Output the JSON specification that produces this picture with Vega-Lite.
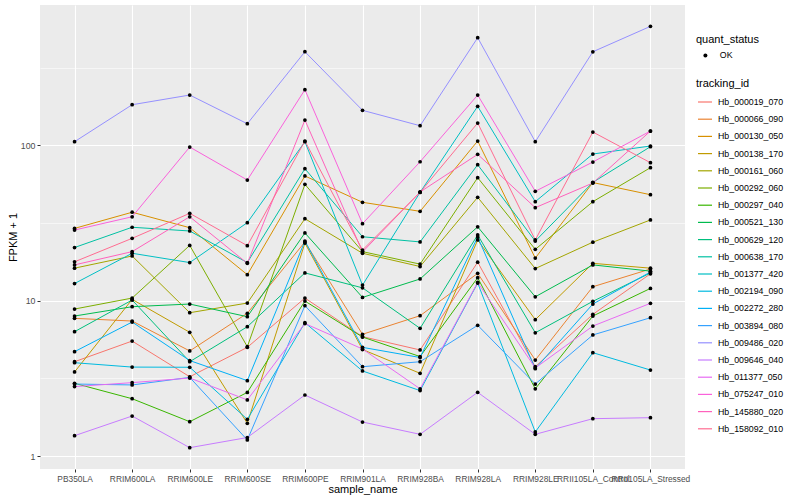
{
"$schema": "https://vega.github.io/schema/vega-lite/v6.json",
"width": 645, "height": 464,
"autosize": {"type": "none"},
"padding": {"left": 40, "top": 5, "right": 115, "bottom": 31},
"background": "white",
"config": {
  "view": {"fill": "#EBEBEB", "stroke": null},
  "font": "Liberation Sans",
  "axis": {"domain": false, "gridColor": "white", "tickColor": "#333333", "tickSize": 3, "tickWidth": 1, "labelColor": "#4D4D4D", "labelFontSize": 8.8, "labelFont": "Liberation Sans", "titleFont": "Liberation Sans", "titleFontSize": 11, "titleFontWeight": "normal", "titleColor": "black", "labelPadding": 2},
  "legend": {"labelFont": "Liberation Sans", "titleFont": "Liberation Sans", "titleFontWeight": "normal", "titleFontSize": 11, "labelFontSize": 8.8, "labelColor": "black", "titleColor": "black", "padding": 0}
},
"data": {"values": [
{"tracking_id":"Hb_000019_070","sample_name":"PB350LA","fpkm":4.05,"quant_status":"OK"},
{"tracking_id":"Hb_000019_070","sample_name":"RRIM600LA","fpkm":5.5,"quant_status":"OK"},
{"tracking_id":"Hb_000019_070","sample_name":"RRIM600LE","fpkm":3.24,"quant_status":"OK"},
{"tracking_id":"Hb_000019_070","sample_name":"RRIM600SE","fpkm":5.01,"quant_status":"OK"},
{"tracking_id":"Hb_000019_070","sample_name":"RRIM600PE","fpkm":10.4,"quant_status":"OK"},
{"tracking_id":"Hb_000019_070","sample_name":"RRIM901LA","fpkm":5.87,"quant_status":"OK"},
{"tracking_id":"Hb_000019_070","sample_name":"RRIM928BA","fpkm":4.82,"quant_status":"OK"},
{"tracking_id":"Hb_000019_070","sample_name":"RRIM928LA","fpkm":17.7,"quant_status":"OK"},
{"tracking_id":"Hb_000019_070","sample_name":"RRIM928LE","fpkm":3.76,"quant_status":"OK"},
{"tracking_id":"Hb_000019_070","sample_name":"RRII105LA_Control","fpkm":8.17,"quant_status":"OK"},
{"tracking_id":"Hb_000019_070","sample_name":"RRII105LA_Stressed","fpkm":14.9,"quant_status":"OK"},
{"tracking_id":"Hb_000066_090","sample_name":"PB350LA","fpkm":7.7,"quant_status":"OK"},
{"tracking_id":"Hb_000066_090","sample_name":"RRIM600LA","fpkm":7.4,"quant_status":"OK"},
{"tracking_id":"Hb_000066_090","sample_name":"RRIM600LE","fpkm":4.75,"quant_status":"OK"},
{"tracking_id":"Hb_000066_090","sample_name":"RRIM600SE","fpkm":8.3,"quant_status":"OK"},
{"tracking_id":"Hb_000066_090","sample_name":"RRIM600PE","fpkm":23.9,"quant_status":"OK"},
{"tracking_id":"Hb_000066_090","sample_name":"RRIM901LA","fpkm":6.08,"quant_status":"OK"},
{"tracking_id":"Hb_000066_090","sample_name":"RRIM928BA","fpkm":8.01,"quant_status":"OK"},
{"tracking_id":"Hb_000066_090","sample_name":"RRIM928LA","fpkm":15.0,"quant_status":"OK"},
{"tracking_id":"Hb_000066_090","sample_name":"RRIM928LE","fpkm":4.15,"quant_status":"OK"},
{"tracking_id":"Hb_000066_090","sample_name":"RRII105LA_Control","fpkm":12.3,"quant_status":"OK"},
{"tracking_id":"Hb_000066_090","sample_name":"RRII105LA_Stressed","fpkm":16.0,"quant_status":"OK"},
{"tracking_id":"Hb_000130_050","sample_name":"PB350LA","fpkm":29.2,"quant_status":"OK"},
{"tracking_id":"Hb_000130_050","sample_name":"RRIM600LA","fpkm":37.1,"quant_status":"OK"},
{"tracking_id":"Hb_000130_050","sample_name":"RRIM600LE","fpkm":29.5,"quant_status":"OK"},
{"tracking_id":"Hb_000130_050","sample_name":"RRIM600SE","fpkm":14.7,"quant_status":"OK"},
{"tracking_id":"Hb_000130_050","sample_name":"RRIM600PE","fpkm":63.5,"quant_status":"OK"},
{"tracking_id":"Hb_000130_050","sample_name":"RRIM901LA","fpkm":43.0,"quant_status":"OK"},
{"tracking_id":"Hb_000130_050","sample_name":"RRIM928BA","fpkm":37.6,"quant_status":"OK"},
{"tracking_id":"Hb_000130_050","sample_name":"RRIM928LA","fpkm":106.6,"quant_status":"OK"},
{"tracking_id":"Hb_000130_050","sample_name":"RRIM928LE","fpkm":18.8,"quant_status":"OK"},
{"tracking_id":"Hb_000130_050","sample_name":"RRII105LA_Control","fpkm":57.6,"quant_status":"OK"},
{"tracking_id":"Hb_000130_050","sample_name":"RRII105LA_Stressed","fpkm":48.1,"quant_status":"OK"},
{"tracking_id":"Hb_000138_170","sample_name":"PB350LA","fpkm":3.48,"quant_status":"OK"},
{"tracking_id":"Hb_000138_170","sample_name":"RRIM600LA","fpkm":10.2,"quant_status":"OK"},
{"tracking_id":"Hb_000138_170","sample_name":"RRIM600LE","fpkm":6.26,"quant_status":"OK"},
{"tracking_id":"Hb_000138_170","sample_name":"RRIM600SE","fpkm":1.626,"quant_status":"OK"},
{"tracking_id":"Hb_000138_170","sample_name":"RRIM600PE","fpkm":23.5,"quant_status":"OK"},
{"tracking_id":"Hb_000138_170","sample_name":"RRIM901LA","fpkm":4.85,"quant_status":"OK"},
{"tracking_id":"Hb_000138_170","sample_name":"RRIM928BA","fpkm":3.41,"quant_status":"OK"},
{"tracking_id":"Hb_000138_170","sample_name":"RRIM928LA","fpkm":24.6,"quant_status":"OK"},
{"tracking_id":"Hb_000138_170","sample_name":"RRIM928LE","fpkm":7.55,"quant_status":"OK"},
{"tracking_id":"Hb_000138_170","sample_name":"RRII105LA_Control","fpkm":17.4,"quant_status":"OK"},
{"tracking_id":"Hb_000138_170","sample_name":"RRII105LA_Stressed","fpkm":16.2,"quant_status":"OK"},
{"tracking_id":"Hb_000161_060","sample_name":"PB350LA","fpkm":16.2,"quant_status":"OK"},
{"tracking_id":"Hb_000161_060","sample_name":"RRIM600LA","fpkm":19.4,"quant_status":"OK"},
{"tracking_id":"Hb_000161_060","sample_name":"RRIM600LE","fpkm":8.37,"quant_status":"OK"},
{"tracking_id":"Hb_000161_060","sample_name":"RRIM600SE","fpkm":9.66,"quant_status":"OK"},
{"tracking_id":"Hb_000161_060","sample_name":"RRIM600PE","fpkm":33.7,"quant_status":"OK"},
{"tracking_id":"Hb_000161_060","sample_name":"RRIM901LA","fpkm":20.2,"quant_status":"OK"},
{"tracking_id":"Hb_000161_060","sample_name":"RRIM928BA","fpkm":16.6,"quant_status":"OK"},
{"tracking_id":"Hb_000161_060","sample_name":"RRIM928LA","fpkm":46.3,"quant_status":"OK"},
{"tracking_id":"Hb_000161_060","sample_name":"RRIM928LE","fpkm":16.1,"quant_status":"OK"},
{"tracking_id":"Hb_000161_060","sample_name":"RRII105LA_Control","fpkm":23.8,"quant_status":"OK"},
{"tracking_id":"Hb_000161_060","sample_name":"RRII105LA_Stressed","fpkm":33.1,"quant_status":"OK"},
{"tracking_id":"Hb_000292_060","sample_name":"PB350LA","fpkm":8.84,"quant_status":"OK"},
{"tracking_id":"Hb_000292_060","sample_name":"RRIM600LA","fpkm":10.4,"quant_status":"OK"},
{"tracking_id":"Hb_000292_060","sample_name":"RRIM600LE","fpkm":22.7,"quant_status":"OK"},
{"tracking_id":"Hb_000292_060","sample_name":"RRIM600SE","fpkm":5.06,"quant_status":"OK"},
{"tracking_id":"Hb_000292_060","sample_name":"RRIM600PE","fpkm":56.1,"quant_status":"OK"},
{"tracking_id":"Hb_000292_060","sample_name":"RRIM901LA","fpkm":20.7,"quant_status":"OK"},
{"tracking_id":"Hb_000292_060","sample_name":"RRIM928BA","fpkm":17.2,"quant_status":"OK"},
{"tracking_id":"Hb_000292_060","sample_name":"RRIM928LA","fpkm":61.9,"quant_status":"OK"},
{"tracking_id":"Hb_000292_060","sample_name":"RRIM928LE","fpkm":21.4,"quant_status":"OK"},
{"tracking_id":"Hb_000292_060","sample_name":"RRII105LA_Control","fpkm":43.4,"quant_status":"OK"},
{"tracking_id":"Hb_000292_060","sample_name":"RRII105LA_Stressed","fpkm":71.8,"quant_status":"OK"},
{"tracking_id":"Hb_000297_040","sample_name":"PB350LA","fpkm":2.94,"quant_status":"OK"},
{"tracking_id":"Hb_000297_040","sample_name":"RRIM600LA","fpkm":2.34,"quant_status":"OK"},
{"tracking_id":"Hb_000297_040","sample_name":"RRIM600LE","fpkm":1.665,"quant_status":"OK"},
{"tracking_id":"Hb_000297_040","sample_name":"RRIM600SE","fpkm":2.57,"quant_status":"OK"},
{"tracking_id":"Hb_000297_040","sample_name":"RRIM600PE","fpkm":9.95,"quant_status":"OK"},
{"tracking_id":"Hb_000297_040","sample_name":"RRIM901LA","fpkm":5.84,"quant_status":"OK"},
{"tracking_id":"Hb_000297_040","sample_name":"RRIM928BA","fpkm":4.37,"quant_status":"OK"},
{"tracking_id":"Hb_000297_040","sample_name":"RRIM928LA","fpkm":14.06,"quant_status":"OK"},
{"tracking_id":"Hb_000297_040","sample_name":"RRIM928LE","fpkm":2.71,"quant_status":"OK"},
{"tracking_id":"Hb_000297_040","sample_name":"RRII105LA_Control","fpkm":7.97,"quant_status":"OK"},
{"tracking_id":"Hb_000297_040","sample_name":"RRII105LA_Stressed","fpkm":12.0,"quant_status":"OK"},
{"tracking_id":"Hb_000521_130","sample_name":"PB350LA","fpkm":7.97,"quant_status":"OK"},
{"tracking_id":"Hb_000521_130","sample_name":"RRIM600LA","fpkm":9.15,"quant_status":"OK"},
{"tracking_id":"Hb_000521_130","sample_name":"RRIM600LE","fpkm":9.52,"quant_status":"OK"},
{"tracking_id":"Hb_000521_130","sample_name":"RRIM600SE","fpkm":7.89,"quant_status":"OK"},
{"tracking_id":"Hb_000521_130","sample_name":"RRIM600PE","fpkm":27.3,"quant_status":"OK"},
{"tracking_id":"Hb_000521_130","sample_name":"RRIM901LA","fpkm":10.5,"quant_status":"OK"},
{"tracking_id":"Hb_000521_130","sample_name":"RRIM928BA","fpkm":13.8,"quant_status":"OK"},
{"tracking_id":"Hb_000521_130","sample_name":"RRIM928LA","fpkm":29.9,"quant_status":"OK"},
{"tracking_id":"Hb_000521_130","sample_name":"RRIM928LE","fpkm":10.6,"quant_status":"OK"},
{"tracking_id":"Hb_000521_130","sample_name":"RRII105LA_Control","fpkm":17.0,"quant_status":"OK"},
{"tracking_id":"Hb_000521_130","sample_name":"RRII105LA_Stressed","fpkm":15.5,"quant_status":"OK"},
{"tracking_id":"Hb_000629_120","sample_name":"PB350LA","fpkm":6.32,"quant_status":"OK"},
{"tracking_id":"Hb_000629_120","sample_name":"RRIM600LA","fpkm":10.1,"quant_status":"OK"},
{"tracking_id":"Hb_000629_120","sample_name":"RRIM600LE","fpkm":4.05,"quant_status":"OK"},
{"tracking_id":"Hb_000629_120","sample_name":"RRIM600SE","fpkm":6.8,"quant_status":"OK"},
{"tracking_id":"Hb_000629_120","sample_name":"RRIM600PE","fpkm":15.1,"quant_status":"OK"},
{"tracking_id":"Hb_000629_120","sample_name":"RRIM901LA","fpkm":12.1,"quant_status":"OK"},
{"tracking_id":"Hb_000629_120","sample_name":"RRIM928BA","fpkm":6.64,"quant_status":"OK"},
{"tracking_id":"Hb_000629_120","sample_name":"RRIM928LA","fpkm":26.5,"quant_status":"OK"},
{"tracking_id":"Hb_000629_120","sample_name":"RRIM928LE","fpkm":6.22,"quant_status":"OK"},
{"tracking_id":"Hb_000629_120","sample_name":"RRII105LA_Control","fpkm":9.91,"quant_status":"OK"},
{"tracking_id":"Hb_000629_120","sample_name":"RRII105LA_Stressed","fpkm":15.1,"quant_status":"OK"},
{"tracking_id":"Hb_000638_170","sample_name":"PB350LA","fpkm":22.0,"quant_status":"OK"},
{"tracking_id":"Hb_000638_170","sample_name":"RRIM600LA","fpkm":29.7,"quant_status":"OK"},
{"tracking_id":"Hb_000638_170","sample_name":"RRIM600LE","fpkm":28.1,"quant_status":"OK"},
{"tracking_id":"Hb_000638_170","sample_name":"RRIM600SE","fpkm":17.6,"quant_status":"OK"},
{"tracking_id":"Hb_000638_170","sample_name":"RRIM600PE","fpkm":70.7,"quant_status":"OK"},
{"tracking_id":"Hb_000638_170","sample_name":"RRIM901LA","fpkm":25.8,"quant_status":"OK"},
{"tracking_id":"Hb_000638_170","sample_name":"RRIM928BA","fpkm":23.9,"quant_status":"OK"},
{"tracking_id":"Hb_000638_170","sample_name":"RRIM928LA","fpkm":75.0,"quant_status":"OK"},
{"tracking_id":"Hb_000638_170","sample_name":"RRIM928LE","fpkm":24.2,"quant_status":"OK"},
{"tracking_id":"Hb_000638_170","sample_name":"RRII105LA_Control","fpkm":57.8,"quant_status":"OK"},
{"tracking_id":"Hb_000638_170","sample_name":"RRII105LA_Stressed","fpkm":98.0,"quant_status":"OK"},
{"tracking_id":"Hb_001377_420","sample_name":"PB350LA","fpkm":12.9,"quant_status":"OK"},
{"tracking_id":"Hb_001377_420","sample_name":"RRIM600LA","fpkm":20.2,"quant_status":"OK"},
{"tracking_id":"Hb_001377_420","sample_name":"RRIM600LE","fpkm":17.6,"quant_status":"OK"},
{"tracking_id":"Hb_001377_420","sample_name":"RRIM600SE","fpkm":31.8,"quant_status":"OK"},
{"tracking_id":"Hb_001377_420","sample_name":"RRIM600PE","fpkm":105.5,"quant_status":"OK"},
{"tracking_id":"Hb_001377_420","sample_name":"RRIM901LA","fpkm":12.6,"quant_status":"OK"},
{"tracking_id":"Hb_001377_420","sample_name":"RRIM928BA","fpkm":49.8,"quant_status":"OK"},
{"tracking_id":"Hb_001377_420","sample_name":"RRIM928LA","fpkm":178.2,"quant_status":"OK"},
{"tracking_id":"Hb_001377_420","sample_name":"RRIM928LE","fpkm":43.4,"quant_status":"OK"},
{"tracking_id":"Hb_001377_420","sample_name":"RRII105LA_Control","fpkm":87.9,"quant_status":"OK"},
{"tracking_id":"Hb_001377_420","sample_name":"RRII105LA_Stressed","fpkm":99.0,"quant_status":"OK"},
{"tracking_id":"Hb_002194_090","sample_name":"PB350LA","fpkm":3.99,"quant_status":"OK"},
{"tracking_id":"Hb_002194_090","sample_name":"RRIM600LA","fpkm":3.74,"quant_status":"OK"},
{"tracking_id":"Hb_002194_090","sample_name":"RRIM600LE","fpkm":3.73,"quant_status":"OK"},
{"tracking_id":"Hb_002194_090","sample_name":"RRIM600SE","fpkm":1.725,"quant_status":"OK"},
{"tracking_id":"Hb_002194_090","sample_name":"RRIM600PE","fpkm":7.22,"quant_status":"OK"},
{"tracking_id":"Hb_002194_090","sample_name":"RRIM901LA","fpkm":3.53,"quant_status":"OK"},
{"tracking_id":"Hb_002194_090","sample_name":"RRIM928BA","fpkm":2.64,"quant_status":"OK"},
{"tracking_id":"Hb_002194_090","sample_name":"RRIM928LA","fpkm":13.0,"quant_status":"OK"},
{"tracking_id":"Hb_002194_090","sample_name":"RRIM928LE","fpkm":1.43,"quant_status":"OK"},
{"tracking_id":"Hb_002194_090","sample_name":"RRII105LA_Control","fpkm":4.63,"quant_status":"OK"},
{"tracking_id":"Hb_002194_090","sample_name":"RRII105LA_Stressed","fpkm":3.58,"quant_status":"OK"},
{"tracking_id":"Hb_002272_280","sample_name":"PB350LA","fpkm":4.7,"quant_status":"OK"},
{"tracking_id":"Hb_002272_280","sample_name":"RRIM600LA","fpkm":7.29,"quant_status":"OK"},
{"tracking_id":"Hb_002272_280","sample_name":"RRIM600LE","fpkm":4.12,"quant_status":"OK"},
{"tracking_id":"Hb_002272_280","sample_name":"RRIM600SE","fpkm":3.06,"quant_status":"OK"},
{"tracking_id":"Hb_002272_280","sample_name":"RRIM600PE","fpkm":24.2,"quant_status":"OK"},
{"tracking_id":"Hb_002272_280","sample_name":"RRIM901LA","fpkm":5.01,"quant_status":"OK"},
{"tracking_id":"Hb_002272_280","sample_name":"RRIM928BA","fpkm":4.31,"quant_status":"OK"},
{"tracking_id":"Hb_002272_280","sample_name":"RRIM928LA","fpkm":25.7,"quant_status":"OK"},
{"tracking_id":"Hb_002272_280","sample_name":"RRIM928LE","fpkm":3.65,"quant_status":"OK"},
{"tracking_id":"Hb_002272_280","sample_name":"RRII105LA_Control","fpkm":9.52,"quant_status":"OK"},
{"tracking_id":"Hb_002272_280","sample_name":"RRII105LA_Stressed","fpkm":15.3,"quant_status":"OK"},
{"tracking_id":"Hb_003894_080","sample_name":"PB350LA","fpkm":2.91,"quant_status":"OK"},
{"tracking_id":"Hb_003894_080","sample_name":"RRIM600LA","fpkm":2.87,"quant_status":"OK"},
{"tracking_id":"Hb_003894_080","sample_name":"RRIM600LE","fpkm":3.21,"quant_status":"OK"},
{"tracking_id":"Hb_003894_080","sample_name":"RRIM600SE","fpkm":1.27,"quant_status":"OK"},
{"tracking_id":"Hb_003894_080","sample_name":"RRIM600PE","fpkm":9.29,"quant_status":"OK"},
{"tracking_id":"Hb_003894_080","sample_name":"RRIM901LA","fpkm":3.76,"quant_status":"OK"},
{"tracking_id":"Hb_003894_080","sample_name":"RRIM928BA","fpkm":4.05,"quant_status":"OK"},
{"tracking_id":"Hb_003894_080","sample_name":"RRIM928LA","fpkm":6.95,"quant_status":"OK"},
{"tracking_id":"Hb_003894_080","sample_name":"RRIM928LE","fpkm":2.91,"quant_status":"OK"},
{"tracking_id":"Hb_003894_080","sample_name":"RRII105LA_Control","fpkm":6.02,"quant_status":"OK"},
{"tracking_id":"Hb_003894_080","sample_name":"RRII105LA_Stressed","fpkm":7.77,"quant_status":"OK"},
{"tracking_id":"Hb_009486_020","sample_name":"PB350LA","fpkm":105.5,"quant_status":"OK"},
{"tracking_id":"Hb_009486_020","sample_name":"RRIM600LA","fpkm":182.5,"quant_status":"OK"},
{"tracking_id":"Hb_009486_020","sample_name":"RRIM600LE","fpkm":210.7,"quant_status":"OK"},
{"tracking_id":"Hb_009486_020","sample_name":"RRIM600SE","fpkm":137.7,"quant_status":"OK"},
{"tracking_id":"Hb_009486_020","sample_name":"RRIM600PE","fpkm":400.3,"quant_status":"OK"},
{"tracking_id":"Hb_009486_020","sample_name":"RRIM901LA","fpkm":168.0,"quant_status":"OK"},
{"tracking_id":"Hb_009486_020","sample_name":"RRIM928BA","fpkm":133.7,"quant_status":"OK"},
{"tracking_id":"Hb_009486_020","sample_name":"RRIM928LA","fpkm":492.5,"quant_status":"OK"},
{"tracking_id":"Hb_009486_020","sample_name":"RRIM928LE","fpkm":105.5,"quant_status":"OK"},
{"tracking_id":"Hb_009486_020","sample_name":"RRII105LA_Control","fpkm":400.0,"quant_status":"OK"},
{"tracking_id":"Hb_009486_020","sample_name":"RRII105LA_Stressed","fpkm":583.0,"quant_status":"OK"},
{"tracking_id":"Hb_009646_040","sample_name":"PB350LA","fpkm":1.353,"quant_status":"OK"},
{"tracking_id":"Hb_009646_040","sample_name":"RRIM600LA","fpkm":1.811,"quant_status":"OK"},
{"tracking_id":"Hb_009646_040","sample_name":"RRIM600LE","fpkm":1.133,"quant_status":"OK"},
{"tracking_id":"Hb_009646_040","sample_name":"RRIM600SE","fpkm":1.317,"quant_status":"OK"},
{"tracking_id":"Hb_009646_040","sample_name":"RRIM600PE","fpkm":2.473,"quant_status":"OK"},
{"tracking_id":"Hb_009646_040","sample_name":"RRIM901LA","fpkm":1.657,"quant_status":"OK"},
{"tracking_id":"Hb_009646_040","sample_name":"RRIM928BA","fpkm":1.381,"quant_status":"OK"},
{"tracking_id":"Hb_009646_040","sample_name":"RRIM928LA","fpkm":2.574,"quant_status":"OK"},
{"tracking_id":"Hb_009646_040","sample_name":"RRIM928LE","fpkm":1.381,"quant_status":"OK"},
{"tracking_id":"Hb_009646_040","sample_name":"RRII105LA_Control","fpkm":1.741,"quant_status":"OK"},
{"tracking_id":"Hb_009646_040","sample_name":"RRII105LA_Stressed","fpkm":1.767,"quant_status":"OK"},
{"tracking_id":"Hb_011377_050","sample_name":"PB350LA","fpkm":2.8,"quant_status":"OK"},
{"tracking_id":"Hb_011377_050","sample_name":"RRIM600LA","fpkm":2.97,"quant_status":"OK"},
{"tracking_id":"Hb_011377_050","sample_name":"RRIM600LE","fpkm":3.18,"quant_status":"OK"},
{"tracking_id":"Hb_011377_050","sample_name":"RRIM600SE","fpkm":2.3,"quant_status":"OK"},
{"tracking_id":"Hb_011377_050","sample_name":"RRIM600PE","fpkm":7.13,"quant_status":"OK"},
{"tracking_id":"Hb_011377_050","sample_name":"RRIM901LA","fpkm":4.89,"quant_status":"OK"},
{"tracking_id":"Hb_011377_050","sample_name":"RRIM928BA","fpkm":2.71,"quant_status":"OK"},
{"tracking_id":"Hb_011377_050","sample_name":"RRIM928LA","fpkm":13.1,"quant_status":"OK"},
{"tracking_id":"Hb_011377_050","sample_name":"RRIM928LE","fpkm":3.69,"quant_status":"OK"},
{"tracking_id":"Hb_011377_050","sample_name":"RRII105LA_Control","fpkm":6.87,"quant_status":"OK"},
{"tracking_id":"Hb_011377_050","sample_name":"RRII105LA_Stressed","fpkm":9.62,"quant_status":"OK"},
{"tracking_id":"Hb_075247_010","sample_name":"PB350LA","fpkm":28.5,"quant_status":"OK"},
{"tracking_id":"Hb_075247_010","sample_name":"RRIM600LA","fpkm":34.7,"quant_status":"OK"},
{"tracking_id":"Hb_075247_010","sample_name":"RRIM600LE","fpkm":97.5,"quant_status":"OK"},
{"tracking_id":"Hb_075247_010","sample_name":"RRIM600SE","fpkm":59.8,"quant_status":"OK"},
{"tracking_id":"Hb_075247_010","sample_name":"RRIM600PE","fpkm":228.0,"quant_status":"OK"},
{"tracking_id":"Hb_075247_010","sample_name":"RRIM901LA","fpkm":31.3,"quant_status":"OK"},
{"tracking_id":"Hb_075247_010","sample_name":"RRIM928BA","fpkm":78.4,"quant_status":"OK"},
{"tracking_id":"Hb_075247_010","sample_name":"RRIM928LA","fpkm":210.7,"quant_status":"OK"},
{"tracking_id":"Hb_075247_010","sample_name":"RRIM928LE","fpkm":50.6,"quant_status":"OK"},
{"tracking_id":"Hb_075247_010","sample_name":"RRII105LA_Control","fpkm":78.1,"quant_status":"OK"},
{"tracking_id":"Hb_075247_010","sample_name":"RRII105LA_Stressed","fpkm":123.6,"quant_status":"OK"},
{"tracking_id":"Hb_145880_020","sample_name":"PB350LA","fpkm":17.0,"quant_status":"OK"},
{"tracking_id":"Hb_145880_020","sample_name":"RRIM600LA","fpkm":20.7,"quant_status":"OK"},
{"tracking_id":"Hb_145880_020","sample_name":"RRIM600LE","fpkm":34.7,"quant_status":"OK"},
{"tracking_id":"Hb_145880_020","sample_name":"RRIM600SE","fpkm":17.4,"quant_status":"OK"},
{"tracking_id":"Hb_145880_020","sample_name":"RRIM600PE","fpkm":145.5,"quant_status":"OK"},
{"tracking_id":"Hb_145880_020","sample_name":"RRIM901LA","fpkm":20.6,"quant_status":"OK"},
{"tracking_id":"Hb_145880_020","sample_name":"RRIM928BA","fpkm":50.1,"quant_status":"OK"},
{"tracking_id":"Hb_145880_020","sample_name":"RRIM928LA","fpkm":87.5,"quant_status":"OK"},
{"tracking_id":"Hb_145880_020","sample_name":"RRIM928LE","fpkm":39.7,"quant_status":"OK"},
{"tracking_id":"Hb_145880_020","sample_name":"RRII105LA_Control","fpkm":57.2,"quant_status":"OK"},
{"tracking_id":"Hb_145880_020","sample_name":"RRII105LA_Stressed","fpkm":123.6,"quant_status":"OK"},
{"tracking_id":"Hb_158092_010","sample_name":"PB350LA","fpkm":17.8,"quant_status":"OK"},
{"tracking_id":"Hb_158092_010","sample_name":"RRIM600LA","fpkm":25.2,"quant_status":"OK"},
{"tracking_id":"Hb_158092_010","sample_name":"RRIM600LE","fpkm":36.5,"quant_status":"OK"},
{"tracking_id":"Hb_158092_010","sample_name":"RRIM600SE","fpkm":22.6,"quant_status":"OK"},
{"tracking_id":"Hb_158092_010","sample_name":"RRIM600PE","fpkm":106.6,"quant_status":"OK"},
{"tracking_id":"Hb_158092_010","sample_name":"RRIM901LA","fpkm":21.2,"quant_status":"OK"},
{"tracking_id":"Hb_158092_010","sample_name":"RRIM928BA","fpkm":49.8,"quant_status":"OK"},
{"tracking_id":"Hb_158092_010","sample_name":"RRIM928LA","fpkm":139.2,"quant_status":"OK"},
{"tracking_id":"Hb_158092_010","sample_name":"RRIM928LE","fpkm":24.6,"quant_status":"OK"},
{"tracking_id":"Hb_158092_010","sample_name":"RRII105LA_Control","fpkm":121.8,"quant_status":"OK"},
{"tracking_id":"Hb_158092_010","sample_name":"RRII105LA_Stressed","fpkm":77.3,"quant_status":"OK"}
]},
"encoding": {
  "x": {"field": "sample_name", "type": "nominal", "title": "sample_name",
    "sort": ["PB350LA","RRIM600LA","RRIM600LE","RRIM600SE","RRIM600PE","RRIM901LA","RRIM928BA","RRIM928LA","RRIM928LE","RRII105LA_Control","RRII105LA_Stressed"],
    "scale": {"type": "point", "padding": 0.6},
    "axis": {"labelAngle": 0, "labelOverlap": false, "grid": true, "gridWidth": 1.1, "labelFontSize": 8.4, "titleY": 20, "titleBaseline": "middle"}},
  "y": {"field": "fpkm", "type": "quantitative", "title": "FPKM + 1",
    "scale": {"type": "log", "domain": [0.826, 800], "nice": false},
    "axis": {"values": [1, 3.1623, 10, 31.623, 100, 316.23], "grid": true,
      "labelExpr": "datum.value == 1 ? '1' : datum.value == 10 ? '10' : datum.value == 100 ? '100' : ''",
      "gridWidth": {"condition": {"test": "datum.value == 1 || datum.value == 10 || datum.value == 100", "value": 1.1}, "value": 0.55},
      "tickOpacity": {"condition": {"test": "datum.value == 1 || datum.value == 10 || datum.value == 100", "value": 1}, "value": 0},
      "titleX": -27, "titleY": 232, "titleAngle": -90, "titleBaseline": "middle", "titleAlign": "center"}}
},
"layer": [
  {"mark": {"type": "line", "strokeWidth": 1},
   "encoding": {"color": {"field": "tracking_id", "type": "nominal", "title": "tracking_id",
     "scale": {"domain": ["Hb_000019_070","Hb_000066_090","Hb_000130_050","Hb_000138_170","Hb_000161_060","Hb_000292_060","Hb_000297_040","Hb_000521_130","Hb_000629_120","Hb_000638_170","Hb_001377_420","Hb_002194_090","Hb_002272_280","Hb_003894_080","Hb_009486_020","Hb_009646_040","Hb_011377_050","Hb_075247_010","Hb_145880_020","Hb_158092_010"],
       "range": ["#F8766D","#EA8331","#D89000","#C09B00","#A3A500","#7CAE00","#39B600","#00BB4E","#00BF7D","#00C1A3","#00BFC4","#00BAE0","#00B0F6","#35A2FF","#9590FF","#C77CFF","#E76BF3","#FA62DB","#FF62BC","#FF6C91"]},
     "legend": {"orient": "none", "legendX": 656, "legendY": 73, "symbolType": "stroke", "symbolSize": 196, "symbolStrokeWidth": 1.2, "rowPadding": 4.2, "labelOffset": 5, "symbolOffset": 1, "titlePadding": 5}}}},
  {"mark": {"type": "point", "filled": true, "size": 14, "color": "black", "opacity": 1},
   "encoding": {"shape": {"field": "quant_status", "type": "nominal", "title": "quant_status",
     "scale": {"domain": ["OK"], "range": ["circle"]},
     "legend": {"orient": "none", "legendX": 656, "legendY": 29, "symbolSize": 16, "symbolFillColor": "black", "symbolStrokeColor": "black", "labelOffset": 10, "symbolOffset": 5, "titlePadding": 6}}}}
]
}
